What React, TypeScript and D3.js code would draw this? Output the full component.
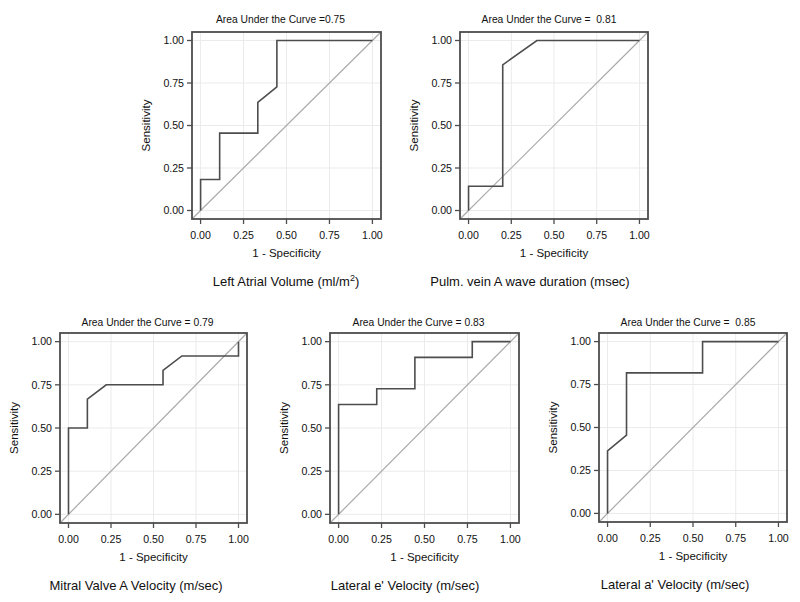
import React from "react";
import * as d3 from "d3";

// ---- Data ----
const tickValues = [0, 0.25, 0.5, 0.75, 1];
const tickLabels = ["0.00", "0.25", "0.50", "0.75", "1.00"];

const titles = [
  "Area Under the Curve =0.75",
  "Area Under the Curve =  0.81",
  "Area Under the Curve = 0.79",
  "Area Under the Curve = 0.83",
  "Area Under the Curve =  0.85",
];
const captions = [
  "Left Atrial Volume (ml/m",
  "Pulm. vein A wave duration (msec)",
  "Mitral Valve A Velocity (m/sec)",
  "Lateral e' Velocity (m/sec)",
  "Lateral a' Velocity (m/sec)",
];

const lavFpr = [0, 0, 0.111, 0.111, 0.333, 0.333, 0.444, 0.444, 1];
const lavTpr = [0, 0.182, 0.182, 0.455, 0.455, 0.636, 0.727, 1, 1];

const pvFpr = [0, 0, 0.2, 0.2, 0.4, 1];
const pvTpr = [0, 0.143, 0.143, 0.857, 1, 1];

const mvFpr = [0, 0, 0.111, 0.111, 0.222, 0.556, 0.556, 0.667, 1, 1];
const mvTpr = [0, 0.5, 0.5, 0.667, 0.75, 0.75, 0.833, 0.917, 0.917, 1];

const latEFpr = [0, 0, 0.222, 0.222, 0.444, 0.444, 0.778, 0.778, 1];
const latETpr = [0, 0.636, 0.636, 0.727, 0.727, 0.909, 0.909, 1, 1];

const latAFpr = [0, 0, 0.111, 0.111, 0.556, 0.556, 1];
const latATpr = [0, 0.364, 0.455, 0.818, 0.818, 1, 1];

const fprs = [lavFpr, pvFpr, mvFpr, latEFpr, latAFpr];
const tprs = [lavTpr, pvTpr, mvTpr, latETpr, latATpr];

// ---- Layout (positions only) ----
const layout = [
  { x0: 192, x1: 381, y0: 32, y1: 219, titleDx: -6, titleDy: -13, capX: 286 },
  { x0: 460, x1: 648, y0: 32, y1: 219, titleDx: -5, titleDy: -13, capX: 530 },
  { x0: 60, x1: 247, y0: 333, y1: 523, titleDx: -6, titleDy: -10.5, capX: 136 },
  { x0: 330, x1: 519, y0: 333, y1: 523, titleDx: -6, titleDy: -10.5, capX: 405 },
  { x0: 599, x1: 787, y0: 333, y1: 522, titleDx: -5, titleDy: -10.5, capX: 675 },
];

const FONT = "'Liberation Sans', Arial, sans-serif";
const DARK = "#4d4d4d";
const TEXT = "#111";

function Panel({ i }: { i: number }) {
  const L = layout[i];
  const x = d3.scaleLinear().domain([-0.05, 1.05]).range([L.x0, L.x1]);
  const y = d3.scaleLinear().domain([-0.05, 1.05]).range([L.y1, L.y0]);
  const pts: [number, number][] = fprs[i].map((f, k) => [f, tprs[i][k]]);
  const line = d3
    .line<[number, number]>()
    .x((d) => x(d[0]))
    .y((d) => y(d[1]));
  const cx = (L.x0 + L.x1) / 2;
  return (
    <g>
      {tickValues.map((t) => (
        <g key={"g" + t}>
          <line x1={x(t)} x2={x(t)} y1={L.y0} y2={L.y1} stroke="#ebebeb" strokeWidth={1} />
          <line x1={L.x0} x2={L.x1} y1={y(t)} y2={y(t)} stroke="#ebebeb" strokeWidth={1} />
        </g>
      ))}
      <line x1={x(-0.05)} y1={y(-0.05)} x2={x(1.05)} y2={y(1.05)} stroke="#aaaaaa" strokeWidth={1.2} />
      <path d={line(pts) || ""} fill="none" stroke={DARK} strokeWidth={1.6} />
      <rect x={L.x0} y={L.y0} width={L.x1 - L.x0} height={L.y1 - L.y0} fill="none" stroke={DARK} strokeWidth={1.8} />
      {tickValues.map((t, k) => (
        <g key={"t" + t}>
          <line x1={x(t)} x2={x(t)} y1={L.y1} y2={L.y1 + 5} stroke={DARK} strokeWidth={1.3} />
          <text x={x(t)} y={L.y1 + 20} textAnchor="middle" fontSize={10.6} fill={TEXT} fontFamily={FONT}>
            {tickLabels[k]}
          </text>
          <line x1={L.x0 - 5} x2={L.x0} y1={y(t)} y2={y(t)} stroke={DARK} strokeWidth={1.3} />
          <text x={L.x0 - 8} y={y(t)} dy="0.35em" textAnchor="end" fontSize={10.6} fill={TEXT} fontFamily={FONT}>
            {tickLabels[k]}
          </text>
        </g>
      ))}
      <text
        x={cx + L.titleDx}
        y={L.y0 + L.titleDy}
        dy="0.35em"
        textAnchor="middle"
        fontSize={10.3}
        fill={TEXT}
        fontFamily={FONT}
        style={{ whiteSpace: "pre" }}
      >
        {titles[i]}
      </text>
      <text x={cx} y={L.y1 + 38} textAnchor="middle" fontSize={11.5} fill={TEXT} fontFamily={FONT}>
        1 - Specificity
      </text>
      <text
        transform={`translate(${L.x0 - 42},${(L.y0 + L.y1) / 2}) rotate(-90)`}
        textAnchor="middle"
        fontSize={11.5}
        fill={TEXT}
        fontFamily={FONT}
      >
        Sensitivity
      </text>
      <text x={L.capX} y={L.y1 + 67} textAnchor="middle" fontSize={13} fill={TEXT} fontFamily={FONT}>
        {captions[i]}
        {i === 0 ? (
          <>
            <tspan fontSize={9} dy={-5}>2</tspan>
            <tspan dy={5}>)</tspan>
          </>
        ) : null}
      </text>
    </g>
  );
}

export default function App() {
  return (
    <svg
      width={800}
      height={602}
      style={{ position: "absolute", left: 0, top: 0, background: "#fff" }}
    >
      <rect x={0} y={0} width={800} height={602} fill="#fff" />
      {layout.map((_, i) => (
        <Panel key={i} i={i} />
      ))}
    </svg>
  );
}
